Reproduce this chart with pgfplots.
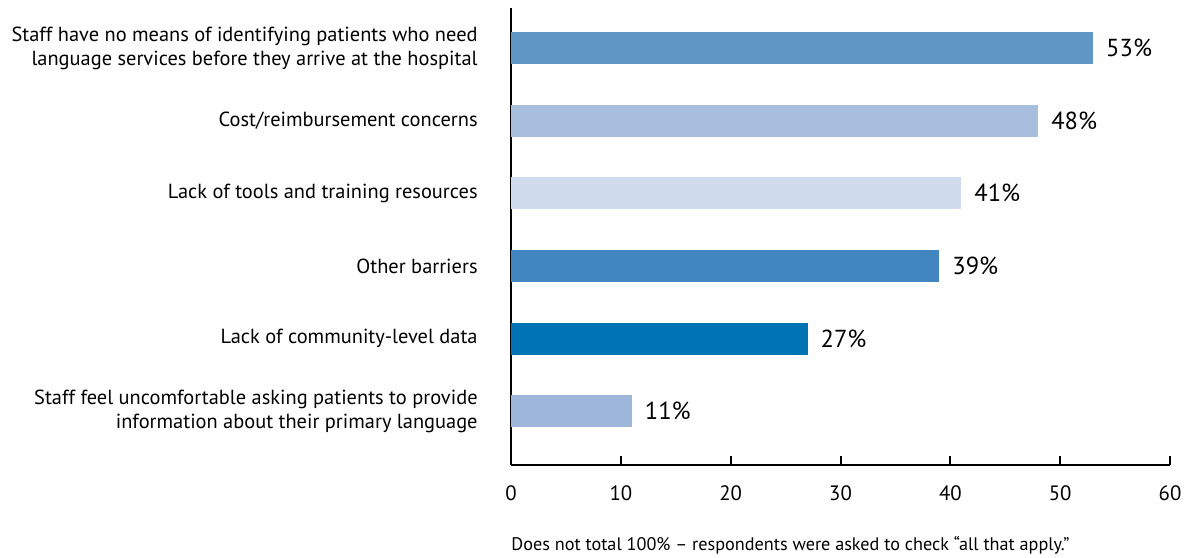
\documentclass[border=0pt]{standalone}
\usepackage{fontspec}
\setmainfont{PT Sans}
\usepackage{pgfplots}
\pgfplotsset{compat=1.18}

\definecolor{cA}{HTML}{6096C6}
\definecolor{cB}{HTML}{A8BEDD}
\definecolor{cC}{HTML}{D0DBEC}
\definecolor{cD}{HTML}{4186C0}
\definecolor{cE}{HTML}{0073B5}
\definecolor{cF}{HTML}{9DB6DA}

\begin{document}
\begin{tikzpicture}
\useasboundingbox (0,0) rectangle (593pt,278.5pt);
\begin{axis}[
  at={(255.5pt,46pt)}, anchor=south west,
  scale only axis,
  width=329.5pt, height=228.5pt,
  xbar, bar width=16pt,
  xmin=0, xmax=60, ymin=0.26, ymax=6.55,
  xtick={0,10,...,60},
  ytick={1,2,3,4,5,6},
  yticklabels={
    {Staff feel uncomfortable asking patients to provide\\information about their primary language},
    {Lack of community-level data},
    {Other barriers},
    {Lack of tools and training resources},
    {Cost/reimbursement concerns},
    {Staff have no means of identifying patients who need\\language services before they arrive at the hospital}},
  axis x line*=bottom, axis y line*=left,
  axis line style={line width=1pt},
  y axis line style={line width=1.2pt},
  xtick style={line width=1pt, black},
  major tick length=4.5pt,
  xtick align=inside,
  ytick style={draw=none},
  /pgf/number format/assume math mode=true,
  xticklabel style={font=\fontsize{10.4}{12}\selectfont, inner sep=0pt, yshift=-10pt},
  yticklabel style={font=\fontsize{10.2}{12}\selectfont, align=right, inner sep=0pt, xshift=-12pt},
  nodes near coords={\pgfmathprintnumber{\pgfplotspointmeta}\%},
  nodes near coords style={font=\fontsize{12.3}{14}\selectfont, xshift=3pt},
  every axis plot/.append style={draw=none, bar shift=0pt},
  clip=false,
]
\addplot[fill=cA] coordinates {(53,6)};
\addplot[fill=cB] coordinates {(48,5)};
\addplot[fill=cC] coordinates {(41,4)};
\addplot[fill=cD] coordinates {(39,3)};
\addplot[fill=cE] coordinates {(27,2)};
\addplot[fill=cF] coordinates {(11,1)};
\end{axis}
\node[anchor=base west, font=\fontsize{9.1}{10}\selectfont, inner sep=0pt] at (255.5pt,3.5pt)
  {Does not total 100\% -- respondents were asked to check “all that apply.”};
\end{tikzpicture}
\end{document}
